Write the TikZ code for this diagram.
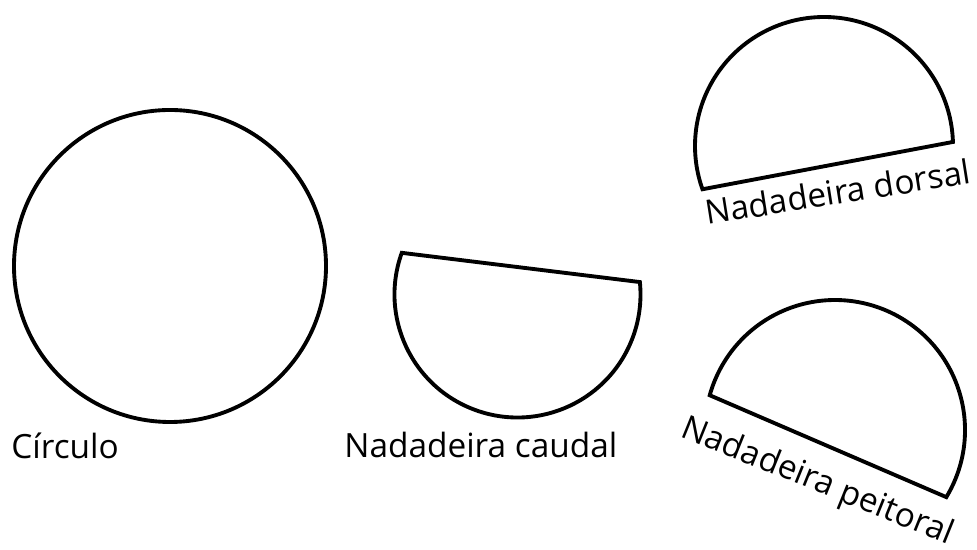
\documentclass[tikz,border=0pt]{standalone}
\usepackage{fontspec}
\setmainfont{Open Sans}
\usepackage{tikz}
\usetikzlibrary{positioning,calc}

\begin{document}
\begin{tikzpicture}[x=0.02cm, y=0.02cm, % 1 unit = 1 px
                    fin/.style={draw, line width=2.2pt, line join=miter},
                    txt/.style={inner sep=0pt, font=\fontsize{19}{21}\selectfont}]
    \useasboundingbox (0,0) rectangle (977,550);

    % Shapes (circle and three cut circles)
    \draw[fin] (170,284) circle[radius=156];
    \draw[fin] ([shift={(160.2:123)}]517.5,255.5) arc[start angle=160.2, end angle=365.8, radius=123] -- cycle;
    \draw[fin] ([shift={(1.8:129)}]824,404) arc[start angle=1.8, end angle=199.6, radius=129] -- cycle;
    \draw[fin] ([shift={(-31.1:130)}]835,120) arc[start angle=-31.1, end angle=164.5, radius=130] -- cycle;

    % Labels
    \node[txt, anchor=base west] (circ) at (11,91) {Círculo};
    \node[txt, anchor=base west] (caud) at (344,92) {Nadadeira caudal};
    \node[txt, anchor=base west, rotate=9] (dors) at (707,325) {Nadadeira dorsal};
    \node[txt, anchor=base west, rotate=-22] (peit) at (679,114) {Nadadeira peitoral};
\end{tikzpicture}
\end{document}
